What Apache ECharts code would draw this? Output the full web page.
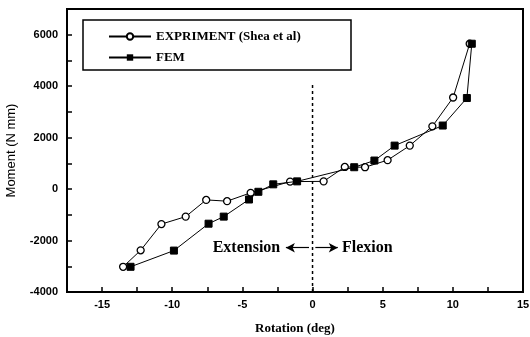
<!DOCTYPE html>
<html>
<head>
<meta charset="utf-8">
<script src="https://cdn.jsdelivr.net/npm/echarts@6/dist/echarts.min.js"></script>
<style>
  html, body { margin: 0; padding: 0; background: #fff; }
  #container { width: 530px; height: 337px; }
</style>
</head>
<body>
<div id="container"></div>
<script>
// rotation (deg) / moment (N mm)
var expX = [-13.5, -12.25, -10.77, -9.04, -7.58, -6.09, -4.41, -1.6, 0.79, 2.3, 3.74, 5.35, 6.93, 8.54, 10.02, 11.2];
var expY = [-3020, -2380, -1360, -1070, -420, -470, -145, 290, 300, 860, 850, 1125, 1690, 2440, 3560, 5650];

var femX = [-12.97, -9.88, -7.41, -6.33, -4.53, -3.86, -2.8, -1.1, 2.97, 4.41, 5.85, 9.28, 11.0, 11.35];
var femY = [-3020, -2390, -1345, -1070, -405, -105, 185, 300, 850, 1110, 1690, 2470, 3540, 5650];

var xTicks = [-15, -10, -5, 0, 5, 10, 15];
var yTicks = [-4000, -2000, 0, 2000, 4000, 6000];

// dashed divider at zero rotation
var dividerX = [0, 0];
var dividerY = [-4000, 4150];

function pairs(xs, ys) {
    return xs.map(function (x, i) { return [x, ys[i]]; });
}

var dom = document.getElementById('container');
var myChart = echarts.init(dom, null, { renderer: 'canvas' });

var labelFont = { color: '#000', fontFamily: 'Liberation Sans', fontWeight: 'bold', fontSize: 11 };

var option = {
    animation: false,
    backgroundColor: '#fff',
    grid: {
        left: 67, right: 7, top: 9, bottom: 45,
        outerBoundsMode: 'none',
        containLabel: false,
        show: true, borderColor: '#000', borderWidth: 2
    },
    legend: {
        data: ['EXPRIMENT (Shea et al)', 'FEM'],
        orient: 'vertical',
        left: 103, top: 25,
        itemWidth: 42, itemHeight: 8, itemGap: 8,
        textStyle: { fontFamily: 'Liberation Serif', fontWeight: 'bold', fontSize: 13, color: '#000' }
    },
    xAxis: {
        type: 'value',
        min: -17.5, max: 15, interval: 2.5,
        name: 'Rotation (deg)',
        nameLocation: 'middle', nameGap: 30,
        nameTextStyle: { fontFamily: 'Liberation Serif', fontWeight: 'bold', fontSize: 13, color: '#000' },
        axisLine: { onZero: false, lineStyle: { color: '#000', width: 2 } },
        axisTick: { inside: true, length: 5, lineStyle: { color: '#000', width: 1.5 } },
        axisLabel: Object.assign({
            margin: 7,
            formatter: function (v) { return xTicks.indexOf(v) >= 0 ? String(v) : ''; }
        }, labelFont),
        splitLine: { show: false }
    },
    yAxis: {
        type: 'value',
        min: -4000, max: 7000, interval: 1000,
        name: 'Moment (N mm)',
        nameLocation: 'middle', nameGap: 49,
        nameTextStyle: { fontFamily: 'Liberation Sans', fontSize: 13, color: '#000' },
        axisLine: { onZero: false, lineStyle: { color: '#000', width: 2 } },
        axisTick: { inside: true, length: 5, lineStyle: { color: '#000', width: 1.5 } },
        axisLabel: Object.assign({
            margin: 9,
            formatter: function (v) { return yTicks.indexOf(v) >= 0 ? String(v) : ''; }
        }, labelFont),
        splitLine: { show: false }
    },
    series: [
        {
            name: 'EXPRIMENT (Shea et al)',
            type: 'line',
            data: pairs(expX, expY),
            symbol: 'circle',
            symbolSize: 7,
            itemStyle: { color: '#fff', borderColor: '#000', borderWidth: 1.3 },
            lineStyle: { color: '#000', width: 1 },
            z: 3
        },
        {
            name: 'FEM',
            type: 'line',
            data: pairs(femX, femY),
            symbol: 'rect',
            symbolSize: 7,
            itemStyle: { color: '#000', borderColor: '#000' },
            lineStyle: { color: '#000', width: 1 },
            z: 4
        },
        {
            name: 'divider',
            type: 'line',
            data: pairs(dividerX, dividerY),
            symbol: 'none',
            lineStyle: { color: '#000', width: 1.5, type: [3, 3] },
            silent: true,
            z: 1,
            markLine: {
                silent: true,
                symbolSize: [7, 9],
                lineStyle: { color: '#000', width: 1.2, type: 'solid' },
                label: { show: false },
                data: [
                    [{ coord: [-0.25, -2280], symbol: 'none' }, { coord: [-1.9, -2280], symbol: 'arrow' }],
                    [{ coord: [0.2, -2280], symbol: 'none' }, { coord: [1.8, -2280], symbol: 'arrow' }]
                ]
            }
        }
    ]
};

myChart.setOption(option);

// legend frame and direction labels
var extPos = myChart.convertToPixel({ gridIndex: 0 }, [-2.3, -2280]);
var flxPos = myChart.convertToPixel({ gridIndex: 0 }, [2.1, -2280]);
var dirFont = 'bold 16px "Liberation Serif"';
myChart.setOption({
    graphic: [
        {
            type: 'rect',
            shape: { x: 83, y: 20, width: 268, height: 50 },
            style: { fill: 'none', stroke: '#000', lineWidth: 1.5 },
            z: 10
        },
        {
            type: 'text',
            x: extPos[0], y: extPos[1],
            style: { text: 'Extension', font: dirFont, fill: '#000', align: 'right', verticalAlign: 'middle' },
            z: 10
        },
        {
            type: 'text',
            x: flxPos[0], y: flxPos[1],
            style: { text: 'Flexion', font: dirFont, fill: '#000', align: 'left', verticalAlign: 'middle' },
            z: 10
        }
    ]
});

window.addEventListener('resize', myChart.resize);
</script>
</body>
</html>
